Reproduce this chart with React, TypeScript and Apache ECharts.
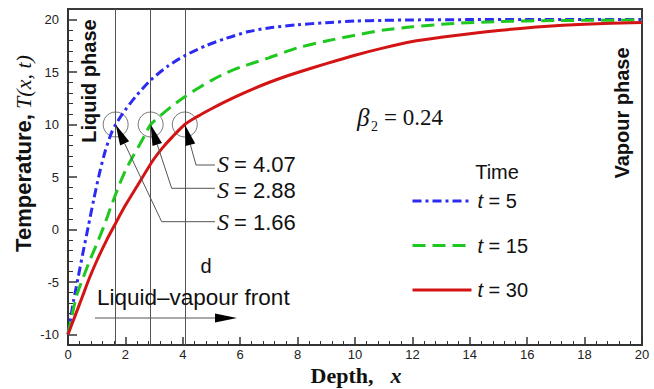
import React, { useEffect, useRef } from "react";
import * as echarts from "echarts";

// ---- data ----
const depthT5 = [0, 0.1, 0.2, 0.35, 0.5, 0.7, 0.9, 1.1, 1.3, 1.5, 1.66, 2.0, 2.4, 2.87, 3.5, 4.1, 4.8, 5.5, 6.3, 7.0, 8.0, 9.0, 10, 11, 12, 14, 16, 18, 20];
const tempT5 = [-10, -8.3, -6.7, -4.6, -2.5, 0.2, 2.9, 5.4, 7.5, 9.1, 10, 11.4, 12.8, 14.2, 15.6, 16.6, 17.5, 18.2, 18.85, 19.2, 19.5, 19.7, 19.85, 19.92, 19.96, 19.99, 20, 20, 20];

const depthT15 = [0, 0.1, 0.3, 0.5, 0.75, 1.0, 1.25, 1.5, 1.75, 2.0, 2.25, 2.5, 2.7, 2.88, 3.2, 3.6, 4.07, 4.5, 5.0, 5.5, 6.0, 6.5, 7.0, 8.0, 9.0, 10, 11, 12, 13.3, 15, 17, 20];
const tempT15 = [-10, -8.7, -6.3, -4.8, -3.0, -1.4, 0.3, 2.2, 4.0, 5.6, 6.9, 8.1, 9.1, 10, 10.8, 11.7, 12.65, 13.4, 14.2, 14.9, 15.45, 15.9, 16.35, 17.3, 17.95, 18.5, 19.0, 19.3, 19.6, 19.8, 19.9, 19.95];

const depthT30 = [0, 0.25, 0.5, 0.75, 1.0, 1.33, 1.66, 2.0, 2.47, 2.94, 3.3, 3.63, 4.07, 4.5, 5.0, 5.5, 6.0, 6.5, 7.0, 7.5, 8.0, 9.0, 10, 11, 12, 13, 14, 15, 16.45, 18, 20];
const tempT30 = [-10, -8.2, -6.4, -4.6, -3.0, -1.1, 0.6, 2.3, 4.4, 6.5, 7.8, 8.8, 10, 10.75, 11.5, 12.2, 12.85, 13.45, 14.0, 14.5, 14.95, 15.8, 16.6, 17.3, 17.9, 18.3, 18.65, 18.95, 19.3, 19.55, 19.72];

const seriesNames = ["t5", "t15", "t30"];
const seriesTimes = ["5", "15", "30"];
const frontDepths = [1.66, 2.88, 4.07];
const frontTemp = 10;
const frontLabels = ["1.66", "2.88", "4.07"];

const SANS = "Liberation Sans";
const SERIF = "Liberation Serif";
const INK = "#111";

const zip = (xs: number[], ys: number[]) => xs.map((x, i) => [x, ys[i]]);

function arrowHead(tip: number[], from: number[], len: number, half: number) {
  const dx = tip[0] - from[0];
  const dy = tip[1] - from[1];
  const L = Math.hypot(dx, dy);
  const ux = dx / L;
  const uy = dy / L;
  const bx = tip[0] - ux * len;
  const by = tip[1] - uy * len;
  return {
    head: [
      [tip[0], tip[1]],
      [bx - uy * half, by + ux * half],
      [bx + uy * half, by - ux * half],
    ],
    base: [bx, by],
  };
}

export default function App() {
  const ref = useRef<HTMLDivElement>(null);

  useEffect(() => {
    if (!ref.current) return;
    const chart = echarts.init(ref.current, null, { renderer: "svg" });

    const lineSeries = (name: string, xs: number[], ys: number[], color: string, type: any) => ({
      name,
      type: "line",
      xAxisIndex: 0,
      yAxisIndex: 0,
      data: zip(xs, ys),
      symbol: "none",
      showSymbol: false,
      smooth: 0.25,
      lineStyle: { color, width: 3, type },
      itemStyle: { color },
      z: 5,
    });

    const option: any = {
      animation: false,
      grid: [
        { left: 68, right: 12, top: 9, bottom: 44, show: true, borderColor: "#3a3a3a", borderWidth: 2 },
        { left: 68, right: 12, top: 19.5, bottom: 54.5, show: false },
      ],
      xAxis: [
        {
          type: "value",
          gridIndex: 0,
          min: 0,
          max: 20,
          interval: 2,
          axisLine: { show: true, onZero: false, lineStyle: { color: "#333", width: 2 } },
          axisTick: { show: true, inside: true, length: 8, lineStyle: { color: "#333", width: 1.5 } },
          minorTick: { show: true, splitNumber: 5, length: 4, lineStyle: { color: "#333", width: 1 } },
          axisLabel: { margin: 3, fontSize: 13, color: "#222", fontFamily: SANS },
          splitLine: { show: false },
        },
        { type: "value", gridIndex: 1, min: 0, max: 20, show: false, axisLine: { onZero: false } },
      ],
      yAxis: [
        {
          type: "value",
          gridIndex: 0,
          min: -11,
          max: 21,
          axisLine: { show: true, onZero: false, lineStyle: { color: "#333", width: 2 } },
          axisTick: { show: false },
          axisLabel: { show: false },
          splitLine: { show: false },
        },
        {
          type: "value",
          gridIndex: 1,
          min: -10,
          max: 20,
          interval: 5,
          axisLine: { show: false, onZero: false },
          axisTick: { show: true, inside: true, length: 9, lineStyle: { color: "#333", width: 1.5 } },
          minorTick: { show: true, splitNumber: 5, length: 5, lineStyle: { color: "#333", width: 1 } },
          axisLabel: { margin: 9, fontSize: 13, color: "#222", fontFamily: SANS },
          splitLine: { show: false },
        },
      ],
      legend: {
        data: seriesNames,
        orient: "vertical",
        left: 406,
        top: 186,
        itemWidth: 59,
        itemHeight: 20,
        itemGap: 24.5,
        lineStyle: { width: 3 },
        itemStyle: { opacity: 0 },
        formatter: (name: string) => "{i|t} = " + seriesTimes[seriesNames.indexOf(name)],
        textStyle: {
          fontSize: 20,
          fontFamily: SANS,
          color: INK,
          padding: [0, 0, 0, 1],
          rich: { i: { fontSize: 20, fontFamily: SANS, fontStyle: "italic", color: INK } },
        },
        selectedMode: false,
      },
      series: [
        lineSeries(seriesNames[0], depthT5, tempT5, "#2b2bf2", [9, 4, 3, 4]),
        lineSeries(seriesNames[1], depthT15, tempT15, "#1ec81e", [13, 7]),
        lineSeries(seriesNames[2], depthT30, tempT30, "#d41414", "solid"),
        {
          name: "front",
          type: "scatter",
          xAxisIndex: 0,
          yAxisIndex: 0,
          data: frontDepths.map((d) => [d, frontTemp]),
          symbol: "circle",
          symbolSize: 25,
          itemStyle: { color: "rgba(0,0,0,0)", borderColor: "#555", borderWidth: 1 },
          silent: true,
          z: 3,
          markLine: {
            silent: true,
            symbol: ["none", "none"],
            label: { show: false },
            lineStyle: { color: "#555", width: 1, type: "solid" },
            data: frontDepths.map((d) => ({ xAxis: d })),
          },
        },
      ],
    };
    chart.setOption(option);

    const px = (x: number, y: number) => chart.convertToPixel({ xAxisIndex: 0, yAxisIndex: 0 }, [x, y]) as number[];

    const labelY = [222, 190, 164];
    const cornerX = [161.7, 171.7, 196];
    const cornerY = [221.7, 188.3, 165];
    const graphics: any[] = [];
    frontDepths.forEach((d, i) => {
      const tip = px(d, frontTemp);
      const corner = [cornerX[i], cornerY[i]];
      const a = arrowHead(tip, corner, 21, 5);
      graphics.push({
        type: "polyline",
        shape: { points: [[215, cornerY[i]], corner, a.base] },
        style: { stroke: "#555", lineWidth: 1, fill: null },
        z: 10,
      });
      graphics.push({ type: "polygon", shape: { points: a.head }, style: { fill: "#000" }, z: 11 });
      graphics.push({
        type: "text",
        x: 217,
        y: labelY[i],
        style: { text: "S", fontSize: 24, fontFamily: SERIF, fontStyle: "italic", fill: INK, align: "left", verticalAlign: "middle" },
        z: 10,
      });
      graphics.push({
        type: "text",
        x: 234,
        y: labelY[i],
        style: { text: "= " + frontLabels[i], fontSize: 22, fontFamily: SANS, fill: INK, align: "left", verticalAlign: "middle" },
        z: 10,
      });
    });

    // Liquid-vapour front arrow
    const frontArrow = arrowHead([237, 318], [95, 318], 22, 4.5);
    graphics.push({
      type: "polyline",
      shape: { points: [[95, 318], frontArrow.base] },
      style: { stroke: "#555", lineWidth: 1, fill: null },
      z: 10,
    });
    graphics.push({ type: "polygon", shape: { points: frontArrow.head }, style: { fill: "#000" }, z: 11 });
    graphics.push({
      type: "text",
      x: 97,
      y: 297,
      style: { text: "Liquid–vapour front", fontSize: 22.5, fontFamily: SANS, fill: INK, align: "left", verticalAlign: "middle" },
      z: 10,
    });
    graphics.push({
      type: "text",
      x: 206,
      y: 266,
      style: { text: "d", fontSize: 20, fontFamily: SANS, fill: INK, align: "center", verticalAlign: "middle" },
      z: 10,
    });

    // Phase labels
    graphics.push({
      type: "text",
      x: 89,
      y: 81,
      rotation: Math.PI / 2,
      style: { text: "Liquid phase", fontSize: 20, fontWeight: "bold", fontFamily: SANS, fill: INK, align: "center", verticalAlign: "middle" },
      z: 10,
    });
    graphics.push({
      type: "text",
      x: 622,
      y: 113,
      rotation: Math.PI / 2,
      style: { text: "Vapour phase", fontSize: 20, fontWeight: "bold", fontFamily: SANS, fill: INK, align: "center", verticalAlign: "middle" },
      z: 10,
    });

    // beta label
    graphics.push({
      type: "text",
      x: 357,
      y: 117,
      style: { text: "β", fontSize: 25, fontStyle: "italic", fontFamily: SERIF, fill: INK, align: "left", verticalAlign: "middle" },
      z: 10,
    });
    graphics.push({
      type: "text",
      x: 371,
      y: 126,
      style: { text: "2", fontSize: 14, fontFamily: SERIF, fill: INK, align: "left", verticalAlign: "middle" },
      z: 10,
    });
    graphics.push({
      type: "text",
      x: 384,
      y: 117,
      style: { text: "= 0.24", fontSize: 23, fontFamily: SERIF, fill: INK, align: "left", verticalAlign: "middle" },
      z: 10,
    });

    // Legend title
    graphics.push({
      type: "text",
      x: 497,
      y: 172,
      style: { text: "Time", fontSize: 20, fontFamily: SANS, fill: INK, align: "center", verticalAlign: "middle" },
      z: 10,
    });

    // Axis titles (y title in two parts, rotated)
    graphics.push({
      type: "text",
      x: 23,
      y: 183,
      rotation: Math.PI / 2,
      style: { text: "Temperature,", fontSize: 22, fontWeight: "bold", fontFamily: SANS, fill: INK, align: "center", verticalAlign: "middle" },
      z: 10,
    });
    graphics.push({
      type: "text",
      x: 23,
      y: 82,
      rotation: Math.PI / 2,
      style: { text: "T(x, t)", fontSize: 22, fontStyle: "italic", fontFamily: SERIF, fill: INK, align: "center", verticalAlign: "middle" },
      z: 10,
    });
    graphics.push({
      type: "text",
      x: 342,
      y: 375,
      style: { text: "Depth,", fontSize: 22, fontWeight: "bold", fontFamily: SERIF, fill: INK, align: "center", verticalAlign: "middle" },
      z: 10,
    });
    graphics.push({
      type: "text",
      x: 396,
      y: 375,
      style: { text: "x", fontSize: 22, fontWeight: "bold", fontStyle: "italic", fontFamily: SERIF, fill: INK, align: "center", verticalAlign: "middle" },
      z: 10,
    });

    chart.setOption({ graphic: graphics });

    return () => chart.dispose();
  }, []);

  return <div ref={ref} style={{ position: "fixed", left: 0, top: 0, width: 654, height: 389, background: "#fff" }} />;
}
